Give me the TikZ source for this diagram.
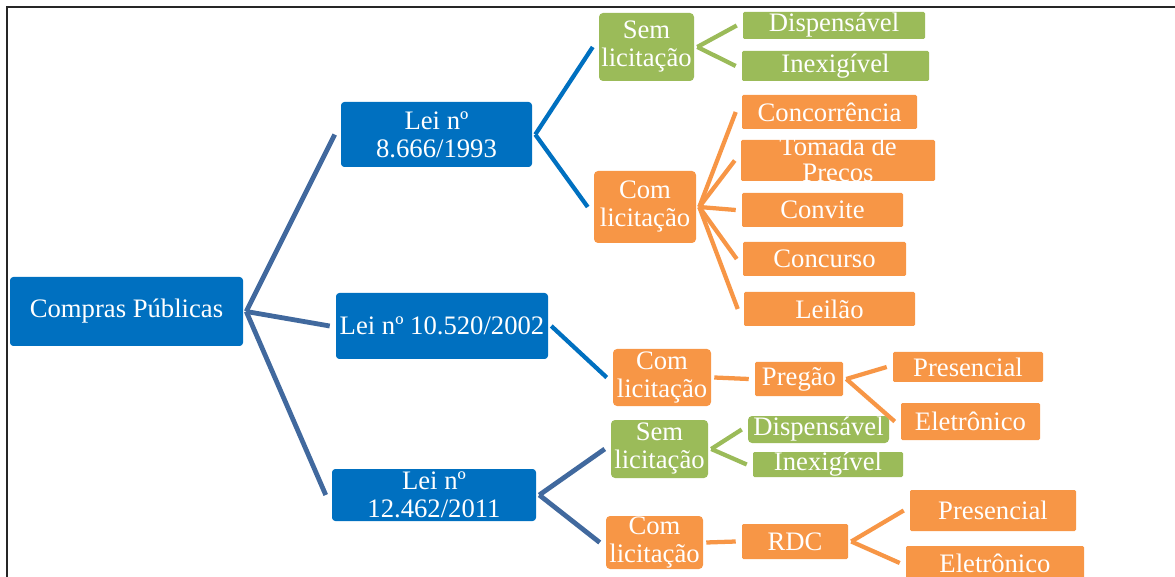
\documentclass[tikz,border=0pt]{standalone}
\usepackage{fontspec}
\setmainfont{Liberation Serif}
\usetikzlibrary{calc}

\definecolor{cblue}{HTML}{0070C0}
\definecolor{cslate}{HTML}{41699E}
\definecolor{cgreen}{HTML}{9BBB59}
\definecolor{corange}{HTML}{F79646}

\newcommand\diagfont{\fontsize{20}{21}\selectfont}

% box given by its corners (x1,y1)-(x2,y2) in pixel units
\newcommand\bx[7]{%
  \node[#2, minimum width={(#5-#3)*0.75pt}, minimum height={(#6-#4)*0.75pt}]
    (#1) at ({(#3+#5)/2},{(#4+#6)/2}) {#7};}

\tikzset{
  box/.style={inner sep=0pt, align=center, text=white, font=\diagfont},
  bluebox/.style={box, fill=cblue, rounded corners=2.5pt},
  greenbox/.style={box, fill=cgreen, rounded corners=3pt},
  orangebox/.style={box, fill=corange, rounded corners=3pt},
  gleaf/.style={box, fill=cgreen, rounded corners=1pt},
  oleaf/.style={box, fill=corange, rounded corners=1pt},
  link/.style={line width=3.2pt},
  slatelink/.style={link, draw=cslate, line width=3.6pt},
  bluelink/.style={link, draw=cblue},
  greenlink/.style={link, draw=cgreen},
  orangelink/.style={link, draw=corange},
}

% connector from parent's right side to child's left side
\newcommand\lk[3]{\draw[#1] ($(#2.east)+(3,0)$) -- ($(#3.west)+(-6,0)$);}

\begin{document}
\begin{tikzpicture}[x=0.75pt, y=-0.75pt]
\useasboundingbox (0,0) rectangle (1175,577);

% frame
\coordinate (fa) at (1175,7);
\coordinate (fb) at (7,7);
\coordinate (fc) at (7,577);
\draw[line width=1.6pt, black!85] (fa) -- (fb) -- (fc);

% laws
\bx{root}{bluebox}{10}{277}{243}{346}{Compras Públicas}
\bx{l1}{bluebox}{341}{102}{532}{167}{Lei nº\\8.666/1993}
\bx{l2}{bluebox}{336}{293}{548}{359}{Lei nº 10.520/2002}
\bx{l3}{bluebox}{332}{469}{536}{521}{Lei nº\\12.462/2011}

% Lei 8.666/1993
\bx{s1}{greenbox}{599}{13}{694}{81}{Sem\\licitação}
\bx{d1}{gleaf}{743}{12}{925}{39}{Dispensável}
\bx{i1}{gleaf}{742}{51}{929}{81}{Inexigível}
\bx{c1}{orangebox}{594}{171}{696}{243}{Com\\licitação}
\bx{co}{oleaf}{742}{95}{917}{129}{Concorrência}
\bx{tp}{oleaf}{741}{140}{935}{181}{}
\begin{scope}
  \clip (tp.south west) rectangle (tp.north east);
  \node[box, anchor=base] (tpa) at (838,156) {Tomada de};
  \node[box, anchor=base] (tpb) at (838,182) {Preços};
\end{scope}
\bx{cv}{oleaf}{742}{193}{903}{227}{Convite}
\bx{cc}{oleaf}{743}{242}{906}{276}{Concurso}
\bx{le}{oleaf}{744}{292}{915}{326}{Leilão}

% Lei 10.520/2002
\bx{c2}{orangebox}{613}{349}{711}{406}{Com\\licitação}
\bx{pg}{oleaf}{755}{362}{843}{396}{Pregão}
\bx{p1}{oleaf}{893}{352}{1043}{382}{Presencial}
\bx{e1}{oleaf}{901}{403}{1040}{440}{Eletrônico}

% Lei 12.462/2011
\bx{s2}{greenbox}{611}{420}{708}{478}{Sem\\licitação}
\bx{d2}{greenbox}{748}{416}{889}{443}{Dispensável}
\bx{i2}{gleaf}{753}{452}{903}{477}{Inexigível}
\bx{c3}{orangebox}{606}{516}{703}{569}{Com\\licitação}
\bx{rdc}{oleaf}{742}{524}{848}{559}{RDC}
\bx{p2}{oleaf}{910}{490}{1076}{531}{Presencial}
\bx{e2}{oleaf}{906}{546}{1084}{580}{Eletrônico}

% connectors
\lk{slatelink}{root}{l1}
\lk{slatelink}{root}{l2}
\lk{slatelink}{root}{l3}

\lk{bluelink}{l1}{s1}
\lk{bluelink}{l1}{c1}
\lk{greenlink}{s1}{d1}
\lk{greenlink}{s1}{i1}
\lk{orangelink}{c1}{co}
\lk{orangelink}{c1}{tp}
\lk{orangelink}{c1}{cv}
\lk{orangelink}{c1}{cc}
\lk{orangelink}{c1}{le}

\lk{bluelink}{l2}{c2}
\lk{orangelink}{c2}{pg}
\lk{orangelink}{pg}{p1}
\lk{orangelink}{pg}{e1}

\lk{slatelink}{l3}{s2}
\lk{slatelink}{l3}{c3}
\lk{greenlink}{s2}{d2}
\lk{greenlink}{s2}{i2}
\lk{orangelink}{c3}{rdc}
\lk{orangelink}{rdc}{p2}
\lk{orangelink}{rdc}{e2}
\end{tikzpicture}
\end{document}
